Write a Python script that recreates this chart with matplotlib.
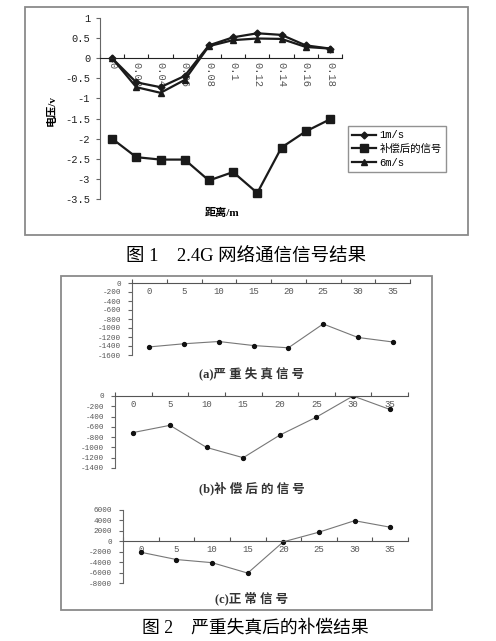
import numpy as np
import matplotlib
matplotlib.use('Agg')
import matplotlib.pyplot as plt
from matplotlib.patches import Rectangle

plt.rcParams['font.family'] = ['Liberation Serif', 'Noto Sans CJK SC', 'DejaVu Sans']

W, H = 496, 641

# figure 1 data
dist = ['0', '0.02', '0.04', '0.06', '0.08', '0.1', '0.12', '0.14', '0.16', '0.18']
v_1ms = [0, -0.6, -0.72, -0.44, 0.32, 0.52, 0.62, 0.58, 0.32, 0.24]
v_comp = [-2.0, -2.46, -2.52, -2.52, -3.04, -2.83, -3.35, -2.22, -1.82, -1.52]
v_6ms = [0, -0.72, -0.86, -0.54, 0.3, 0.45, 0.49, 0.48, 0.28, 0.24]
yticks1 = [1, 0.5, 0, -0.5, -1, -1.5, -2, -2.5, -3, -3.5]

# figure 2 data
x2 = ['0', '5', '10', '15', '20', '25', '30', '35']
sig_a = [-1420, -1350, -1300, -1390, -1440, -910, -1210, -1310]
sig_b = [-710, -570, -1000, -1200, -760, -410, 0, -260]
sig_c = [-2100, -3500, -4100, -6100, -100, 1750, 3950, 2700]
yt_a = [0, -200, -400, -600, -800, -1000, -1200, -1400, -1600]
yt_b = [0, -200, -400, -600, -800, -1000, -1200, -1400]
yt_c = [6000, 4000, 2000, 0, -2000, -4000, -6000, -8000]

MONO = ['Liberation Mono', 'DejaVu Sans Mono']

fig = plt.figure(figsize=(W / 100, H / 100), dpi=100)


def px_axes(x0, y0, x1, y1):
    return fig.add_axes([x0 / W, 1 - y1 / H, (x1 - x0) / W, (y1 - y0) / H])


def fx(x):
    return x / W


def fy(y):
    return 1 - y / H


def box(x0, y0, x1, y1):
    fig.add_artist(Rectangle((fx(x0), fy(y1)), fx(x1) - fx(x0), fy(y0) - fy(y1),
                             transform=fig.transFigure, fill=False,
                             edgecolor='#8a8a8a', linewidth=1.3))


def cat_axis(ax, labels, ticks, ylim, fsx, fsy, rot=0, col='#222222',
             xlab_col='#222222', ylab_col='#222222', ypad=2):
    n = len(labels)
    ax.set_xlim(-0.5, n - 0.5)
    ax.set_ylim(*ylim)
    for s in ['top', 'right']:
        ax.spines[s].set_visible(False)
    ax.spines['bottom'].set_position(('data', 0))
    ax.spines['bottom'].set_color(col)
    ax.spines['left'].set_color('#666666')
    ax.set_xticks(np.arange(n + 1) - 0.5)
    ax.set_xticklabels([])
    ax.set_xticks(np.arange(n), minor=True)
    ax.set_xticklabels(labels, minor=True, rotation=rot, fontsize=fsx, color=xlab_col,
                       family=MONO)
    ax.tick_params(axis='x', which='major', direction='in', length=3, color=col)
    ax.tick_params(axis='x', which='minor', length=0, pad=3)
    ax.set_yticks(ticks)
    ax.set_yticklabels([str(t) for t in ticks], fontsize=fsy, color=ylab_col,
                       family=MONO)
    ax.tick_params(axis='y', direction='out', length=3, color='#666666', pad=ypad)
    ax.patch.set_alpha(0)


# ---- figure 1 ----
box(25, 7, 468, 235)
ax1 = px_axes(100, 18, 342, 199)
cat_axis(ax1, dist, yticks1, (-3.5, 1), 7.5, 7.5, rot=-90, xlab_col='#555555', ypad=4)
xs = np.arange(len(dist))
ax1.plot(xs, v_1ms, color='#1a1a1a', lw=1.6, marker='D', ms=3.5, label='1m/s')
ax1.plot(xs, v_comp, color='#1a1a1a', lw=1.6, marker='s', ms=5.5, label='补偿后的信号')
ax1.plot(xs, v_6ms, color='#1a1a1a', lw=1.6, marker='^', ms=4.5, label='6m/s')
fig.legend(loc='upper left', bbox_to_anchor=(fx(348), fy(126)), borderaxespad=0,
           prop={'family': ['Liberation Mono', 'Noto Sans CJK SC'], 'size': 7.5},
           frameon=True, fancybox=False, edgecolor='#777777',
           handlelength=2.3, labelspacing=0.35, borderpad=0.4, handletextpad=0.3)
fig.text(fx(222), fy(213), '距离/m', ha='center', va='center', fontsize=8, fontweight='bold')
fig.text(fx(52), fy(110), '电压/v', ha='center', va='center', rotation=90,
         fontsize=8, fontweight='bold')
fig.text(fx(246), fy(256), '图 1    2.4G 网络通信信号结果', ha='center', va='center', fontsize=13.3)

# ---- figure 2 ----
box(61, 276, 432, 610)
gray = '#555555'
ax2 = px_axes(132, 283, 410, 355)
cat_axis(ax2, x2, yt_a, (-1600, 0), 6.5, 5.5, col=gray,
         xlab_col='#555555', ylab_col='#555555', ypad=5)
ax2.plot(np.arange(8), sig_a, color='#777777', lw=0.8, marker='o', ms=2.8,
         mfc='#111111', mec='#111111')
fig.text(fx(252), fy(373), '(a)严 重 失 真 信 号', ha='center', va='center', fontsize=9,
         color='#333333', fontweight='bold')

ax3 = px_axes(115, 396, 408, 468)
cat_axis(ax3, x2, yt_b, (-1400, 0), 6.5, 5.5, col=gray,
         xlab_col='#555555', ylab_col='#555555', ypad=5)
ax3.plot(np.arange(8), sig_b, color='#777777', lw=0.8, marker='o', ms=2.8,
         mfc='#111111', mec='#111111')
fig.text(fx(252), fy(488), '(b)补 偿 后 的 信 号', ha='center', va='center', fontsize=9,
         color='#333333', fontweight='bold')

ax4 = px_axes(123, 510, 408, 583)
cat_axis(ax4, x2, yt_c, (-8000, 6000), 6.5, 5.5, col=gray,
         xlab_col='#555555', ylab_col='#555555', ypad=5)
ax4.plot(np.arange(8), sig_c, color='#777777', lw=0.8, marker='o', ms=2.8,
         mfc='#111111', mec='#111111')
fig.text(fx(252), fy(598), '(c)正 常 信 号', ha='center', va='center', fontsize=9,
         color='#333333', fontweight='bold')

fig.text(fx(255), fy(628), '图 2    严重失真后的补偿结果', ha='center', va='center', fontsize=12.8)

fig.savefig('out.png', dpi=100)
